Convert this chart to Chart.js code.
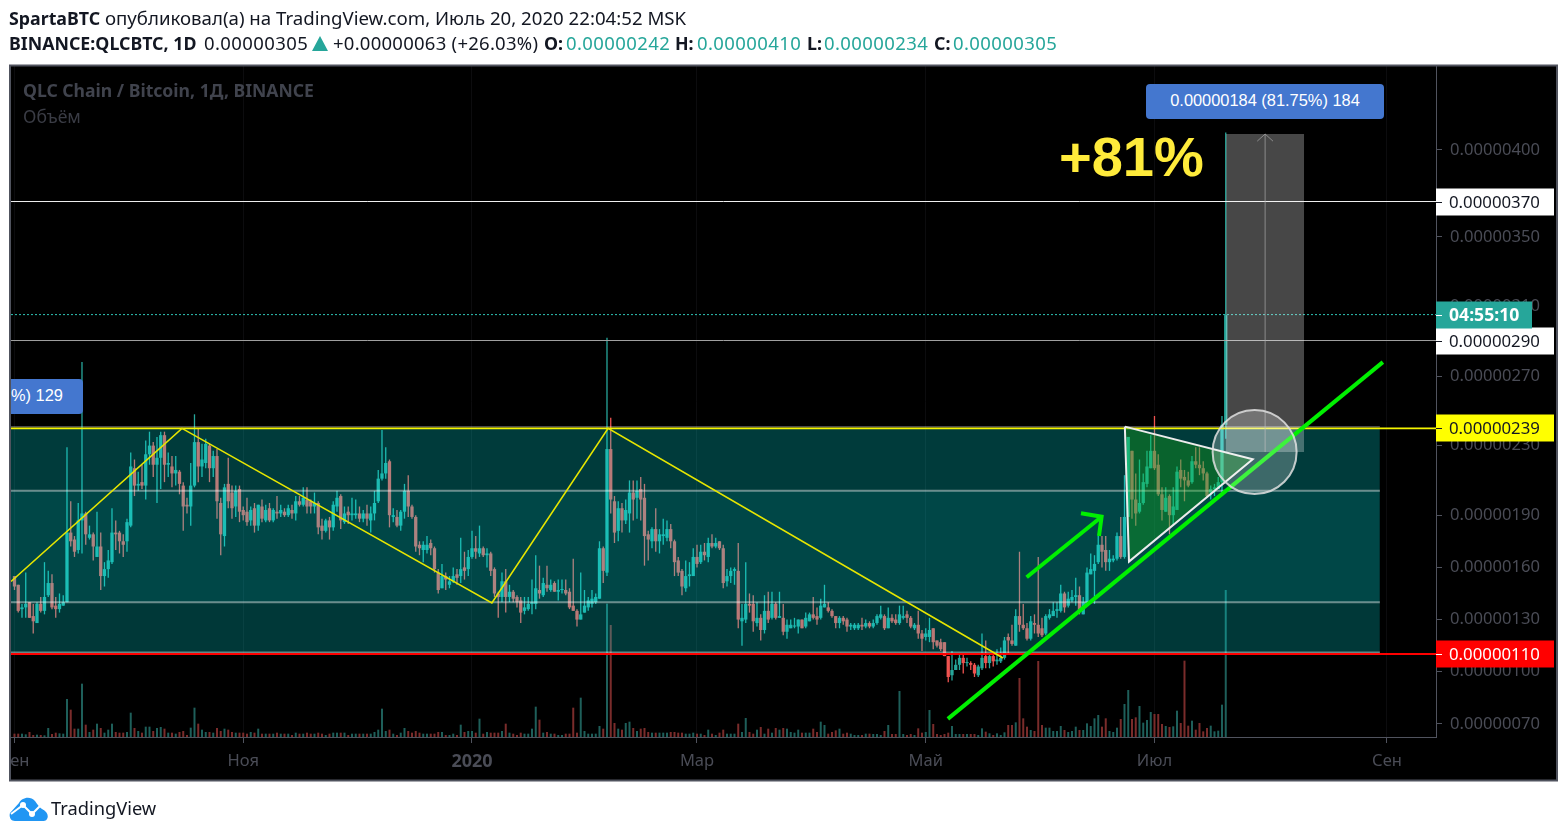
<!DOCTYPE html>
<html lang="ru">
<head>
<meta charset="utf-8">
<title>QLCBTC</title>
<script src="https://cdn.jsdelivr.net/npm/chart.js@4/dist/chart.umd.min.js"></script>
<style>
html, body { margin: 0; padding: 0; background: #fff; }
#wrap { position: relative; width: 1567px; height: 836px; overflow: hidden; font-family: "Noto Sans", sans-serif; }
#chart { position: absolute; left: 0; top: 0; }
.t { position: absolute; white-space: nowrap; font-size: 18.65px; line-height: 24px; color: #131722; }
.n { font-size: 18.5px; letter-spacing: 0.4px; }
.b { font-weight: 700; font-size: 17.8px; letter-spacing: 0; }
.teal { color: #26a69a; }
.blue { position: absolute; background: #4477cf; color: #fff; font: 16.4px/33px "Liberation Sans", sans-serif; white-space: nowrap; overflow: hidden; }
</style>
</head>
<body>
<div id="wrap">
  <canvas id="chart" width="1567" height="836"></canvas>

  <div class="t" style="left:9px;top:6px"><span class="b">SpartaBTC</span> опубликовал(а) на TradingView.com, Июль 20, 2020 22:04:52 MSK</div>
  <div class="t b" style="left:9px;top:31px">BINANCE:QLCBTC, 1D</div>
  <div class="t n" style="left:204px;top:31px">0.00000305</div>
  <svg style="position:absolute;left:312px;top:36px" width="16" height="15"><polygon points="8,0 16,15 0,15" fill="#26a69a"/></svg>
  <div class="t n" style="left:333px;top:31px;letter-spacing:0.25px">+0.00000063 (+26.03%)</div>
  <div class="t b" style="left:544px;top:31px">O:</div>
  <div class="t teal n" style="left:566px;top:31px">0.00000242</div>
  <div class="t b" style="left:675px;top:31px">H:</div>
  <div class="t teal n" style="left:697px;top:31px">0.00000410</div>
  <div class="t b" style="left:807px;top:31px">L:</div>
  <div class="t teal n" style="left:824px;top:31px">0.00000234</div>
  <div class="t b" style="left:934px;top:31px">C:</div>
  <div class="t teal n" style="left:953px;top:31px">0.00000305</div>

  <div class="t b" style="left:23px;top:78px;font-size:17.6px;color:#40434d">QLC Chain / Bitcoin, 1Д, BINANCE</div>
  <div class="t" style="left:23px;top:104px;font-size:17.6px;color:#3a3c45">Объём</div>

  <div class="blue" style="left:1146px;top:84px;width:238px;height:35px;line-height:33px;border-radius:4px;text-align:center">0.00000184 (81.75%) 184</div>
  <div class="blue" style="left:11px;top:379px;width:72px;height:35px;border-radius:0 4px 4px 0">%) 129</div>
  <div class="t" style="left:1059px;top:120px;font:700 56px/74px 'Liberation Sans',sans-serif;color:#ffeb3b">+81%</div>

  <svg style="position:absolute;left:9px;top:797px" width="40" height="24" viewBox="0 0 40 24">
    <path d="M6 24 C1 24 0 19 1 16 L10 6 C12 1 21 -2 26 4 C29 8 30 10 33 12 C38 14 40 19 38 22 C37 24 35 24 33 24 Z" fill="#2196f3"/>
    <path d="M2 17 L14 8 L23 17 L31 9" fill="none" stroke="#fff" stroke-width="2"/>
    <circle cx="14" cy="8" r="3" fill="#fff"/><circle cx="23" cy="17" r="3" fill="#fff"/>
  </svg>
  <div class="t" style="left:51px;top:796px;font-size:18.3px">TradingView</div>
</div>

<script>
// daily candles, Sep 1 2019 = day 0, prices in 1e-8 BTC
const opens = [
  155,150,136,137,140,132,128,139,135,144, 151,138,136,138,140,180,176,170,187,191,
  177,179,166,172,155,159,163,180,180,175, 175,184,217,207,209,207,225,230,219,223,
  236,219,218,214,215,207,196,195,207,232, 218,220,230,217,224,197,178,208,203,195,
  205,193,192,187,194,184,195,187,194,187, 192,191,192,190,193,191,198,196,199,198,
  195,197,184,181,187,183,195,201,186,192, 190,190,191,188,191,187,191,198,211,214,
  221,189,189,184,192,204,195,189,173,170, 170,174,171,157,148,155,150,152,156,155,
  160,159,166,171,168,171,167,168,159,145, 143,152,143,146,143,141,135,136,139,139,
  147,144,150,147,151,146,147,147,146,138, 135,130,134,137,139,140,142,171,157,228,
  198,181,194,187,191,203,200,205,200,179, 175,182,175,178,177,182,175,164,158,148,
  155,155,166,163,169,166,174,172,175,171, 152,155,158,158,129,130,139,139,128,131,
  124,135,131,139,131,131,123,125,126,126, 130,126,129,133,132,131,137,137,135,132,
  128,131,130,126,125,125,127,126,128,126, 128,131,132,125,131,130,128,131,133,131,
  125,127,122,120,120,125,118,117,117,109, 98,101,104,108,105,105,104,98,102,109,
  105,109,106,106,108,120,118,115,132,127, 125,119,128,127,125,122,131,132,135,135,
  145,138,141,143,144,133,139,156,158,163, 173,170,163,164,165,178,166,189,227,199,
  192,197,208,217,227,219,202,192,201,190, 193,216,212,210,209,221,219,217,214,203,
  205,205,209,242
];
const closes = [
  149,135,137,139,131,129,139,135,143,151, 137,136,139,140,180,175,169,187,191,179,
  179,172,172,155,159,164,180,179,175,173, 186,218,207,208,207,225,230,219,223,236,
  219,220,214,216,208,195,195,207,232,218, 222,231,217,224,198,179,206,198,194,204,
  192,190,186,193,184,196,188,193,187,193, 191,193,190,194,191,198,196,200,195,195,
  197,183,181,187,183,196,200,187,191,190, 191,191,188,191,188,191,197,211,214,220,
  190,190,184,192,204,195,189,172,171,173, 173,171,159,147,155,153,152,155,154,159,
  158,166,171,169,171,167,168,158,145,143, 152,143,146,142,140,134,137,139,140,148,
  145,151,148,150,146,147,147,145,137,135, 130,133,138,141,142,143,171,158,228,199,
  180,194,187,193,203,199,204,199,178,176, 182,175,179,179,182,175,163,157,149,155,
  156,166,162,169,167,174,172,174,171,151, 155,158,159,130,131,139,138,129,131,124,
  135,130,139,131,132,123,127,127,126,130, 125,131,133,131,130,138,139,135,132,128,
  131,129,126,127,127,127,126,128,126,128, 132,133,125,131,129,128,133,132,131,126,
  127,122,119,122,124,117,115,113,109,97, 101,104,108,105,105,104,99,103,108,105,
  109,106,107,108,118,118,116,132,127,125, 119,129,127,122,121,132,133,135,136,145,
  137,142,143,144,135,140,157,159,162,173, 169,163,165,165,178,166,189,235,199,191,
  197,209,218,227,217,202,193,200,190,195, 215,211,210,207,221,219,217,214,201,205,
  206,209,242,305
];
const highs = [
  155,150,139,157,140,139,140,143,163,158, 156,143,145,144,229,198,178,197,278,192,
  184,180,192,180,163,170,194,187,181,179, 188,226,222,215,219,233,238,232,235,238,
  238,226,224,224,216,209,200,220,248,240, 231,234,231,227,228,200,208,223,207,207,
  207,195,200,195,197,196,199,196,197,194, 201,196,194,196,196,201,201,206,206,199,
  203,198,188,188,189,198,204,202,195,195, 200,199,195,193,196,195,204,216,239,229,
  222,194,193,193,208,213,196,190,175,175, 178,176,172,159,162,157,155,160,159,177,
  169,170,181,178,184,172,171,169,160,146, 157,159,150,147,144,143,143,143,153,167,
  161,154,161,153,152,153,153,153,148,165, 136,157,147,143,147,145,175,172,292,246,
  201,198,197,199,210,210,210,212,208,181, 183,194,182,188,187,185,176,166,159,164,
  163,171,173,173,174,177,179,177,175,173, 159,160,160,174,139,163,145,144,140,133,
  144,146,146,140,146,139,130,130,131,130, 130,134,134,143,137,142,150,140,136,132,
  132,132,131,128,128,128,131,130,129,130, 133,138,133,137,133,133,138,138,135,132,
  128,135,124,125,131,125,118,119,117,109, 112,107,110,110,108,106,105,104,122,118,
  110,110,113,114,120,122,127,136,169,139, 128,132,133,166,131,133,136,140,140,150,
  146,146,147,154,149,143,160,168,167,178, 178,178,170,167,180,189,213,235,227,214,
  222,214,227,236,247,225,206,206,202,206, 218,222,216,215,224,229,229,221,215,207,
  208,212,247,410
];
const lows = [
  147,134,131,131,131,122,128,134,133,143, 136,131,134,138,140,172,166,168,168,173,
  176,164,166,147,149,154,162,170,168,166, 169,183,201,204,205,199,219,212,197,205,
  209,212,206,207,202,181,191,184,206,209, 212,217,209,212,188,167,172,194,188,189,
  186,187,184,184,180,181,186,186,186,186, 188,189,189,189,188,187,195,195,191,191,
  191,179,176,180,176,181,192,182,185,185, 187,188,186,186,184,180,187,197,210,211,
  183,186,183,181,188,189,188,169,167,163, 168,167,157,145,148,147,148,151,150,151,
  153,155,165,165,166,166,160,155,143,131, 140,134,140,140,137,128,133,135,133,136,
  142,143,146,146,146,141,145,144,136,135, 126,130,134,135,137,139,142,151,155,191,
  174,175,180,185,180,187,188,187,161,164, 171,169,168,173,175,171,155,155,144,146,
  149,155,160,162,164,163,171,171,170,148, 149,151,150,125,115,128,134,123,126,118,
  122,128,130,130,131,121,119,125,125,122, 125,125,129,130,127,130,137,134,131,125,
  125,127,123,124,124,124,124,125,125,125, 127,130,124,125,128,127,127,130,128,125,
  124,119,112,118,117,113,114,112,109,94, 95,101,101,99,103,101,97,97,101,102,
  102,103,104,105,107,110,115,115,123,124, 118,118,122,120,120,121,130,132,131,134,
  134,137,140,138,133,133,139,156,139,162, 160,158,158,163,164,165,165,189,188,184,
  191,196,206,217,216,201,187,192,179,184, 193,206,198,206,208,217,213,210,200,199,
  201,205,201,234
];
const volumes = [
  10,10,10,8,15,6,7,6,5,27, 9,13,11,10,114,82,25,25,160,37,
  15,22,40,27,13,22,40,15,13,13, 15,73,27,18,13,31,31,18,27,30,
  25,13,13,10,15,18,6,28,88,40, 22,15,15,13,27,18,25,22,15,13,
  13,13,10,15,13,25,10,10,10,10, 13,10,10,10,6,13,10,10,13,10,
  10,13,10,6,10,13,13,13,13,6, 10,10,10,10,10,10,15,22,85,18,
  22,10,6,13,27,18,13,18,13,10, 10,10,10,15,15,6,6,10,6,37,
  15,18,18,13,55,10,15,13,13,13, 18,40,13,10,6,13,10,10,25,91,
  52,13,15,10,10,6,6,10,10,88, 13,118,18,10,10,10,33,25,400,336,
  42,25,22,42,46,27,18,25,27,15, 13,13,13,13,13,15,15,13,13,10,
  10,13,10,10,6,22,10,6,13,22, 10,10,10,40,15,57,15,10,22,30,
  10,25,13,27,22,27,25,15,13,22, 13,13,13,25,15,46,36,10,15,20,
  25,10,13,10,6,6,6,10,10,9, 9,6,18,36,9,9,138,9,6,9,
  6,26,13,15,81,39,9,6,9,13, 33,9,9,9,9,9,9,6,26,16,
  11,6,11,6,14,36,36,44,177,56, 31,21,18,228,36,28,28,18,18,33,
  21,15,18,31,21,21,41,33,56,66, 31,56,18,15,28,54,99,141,54,59,
  93,43,51,75,69,69,39,33,30,32, 79,42,229,34,49,22,42,17,27,34,
  17,19,97,441
];

// axes
const priceTicks = [70, 100, 130, 160, 190, 230, 270, 310, 350, 400];
const timeTicks = [0, 61, 122, 182, 243, 304, 366];
const timeLabels = ['Сен', 'Ноя', '2020', 'Мар', 'Май', 'Июл', 'Сен'];
const xMin = -0.93, xMax = 379.07;
const priceMin = 62.5, priceMax = 448.2;
const volumeMax = 2013;

// levels
const lineWhite = 370.3, lineGrey = 290.4, lastPrice = 305.3;
const resistance = 239.9, support = 110.2;
const bandUpper = 204, bandLower = 140, boxEnd = 364.1;

// drawings
const zigzag = [[-0.93,151.9],[44.67,239.9],[127.3,139.5],[158.3,239.9],[263.6,107.9]];
const trendLine = [[248.9,72.9],[364.9,278]];
const arrowShaft = [[269.9,154.3],[289.9,189.1]];
const arrowHead = [[284.4,191.1],[289.9,189.1],[289.2,178]];
const triangle = [[296.1,240.9],[330.2,222.1],[297.2,163.3],[296.1,240.9]];
const circleCenter = [330.7,226.3];
const rangeBox = [323,343.9,226.3,409.1];
const rangeStem = [[333.5,226.3],[333.5,409.1]];
const rangeTip = [[331.4,405],[333.5,409.1],[335.6,405]];

const days = closes.map((c, i) => i);
const up = days.map(i => closes[i] >= opens[i]);
const candleColors = up.map(u => u ? '#26a69a' : '#ef5350');
const volumeColors = up.map(u => u ? '#1e5f5a' : '#7a2c2b');

function pts(list) {
    return list.map(p => ({ x: p[0], y: p[1] }));
}

function line(list, color, width, extra) {
    return Object.assign({
        type: 'line',
        data: pts(list),
        borderColor: color,
        borderWidth: width,
        pointRadius: 0,
        fill: false,
        tension: 0,
        yAxisID: 'y',
        borderCapStyle: 'butt',
        borderJoinStyle: 'miter'
    }, extra || {});
}

function band(x0, x1, top, bottom, color, order) {
    return line([[x0, top], [x1, top]], 'transparent', 0, {
        fill: { value: bottom },
        backgroundColor: color,
        order: order
    });
}

function priceText(v) {
    return (Math.floor(v) / 1e8).toFixed(8);
}

const badges = [
    { value: lineWhite, bg: '#ffffff', fg: '#131722', w: 118 },
    { value: lineGrey, bg: '#ffffff', fg: '#131722', w: 118 },
    { value: resistance, bg: '#ffff00', fg: '#131722', w: 118 },
    { value: support, bg: '#ff0000', fg: '#ffffff', w: 118 }
];

const framePlugin = {
    id: 'framePlugin',
    afterLayout(chart) {
        // keep the plot flush with the frame, the first label may overhang
        const area = chart.chartArea;
        const x = chart.scales.x;
        area.left = 11;
        area.width = area.right - area.left;
        x.left = area.left;
        x.right = area.right;
        x.width = area.width;
        x.configure();
    },
    beforeDraw(chart) {
        const ctx = chart.ctx;
        ctx.save();
        ctx.fillStyle = '#000';
        ctx.fillRect(10, 66, 1547, 714);
        ctx.restore();
    },
    afterDraw(chart) {
        const ctx = chart.ctx;
        const y = chart.scales.y;
        const left = chart.chartArea.right;
        ctx.save();
        // the first month label is cut by the frame
        ctx.fillStyle = '#fff';
        ctx.fillRect(0, 60, 9, 730);
        ctx.strokeStyle = '#50535e';
        ctx.lineWidth = 2;
        ctx.strokeRect(10, 65.5, 1547, 715);

        ctx.textBaseline = 'middle';
        badges.forEach(b => {
            const py = Math.round(y.getPixelForValue(b.value));
            ctx.fillStyle = b.bg;
            ctx.fillRect(left, py - 13.5, b.w, 27);
            ctx.fillStyle = b.fg;
            ctx.fillRect(left, py, 6, 1);
            ctx.font = '16.8px "Noto Sans"';
            ctx.fillText(priceText(b.value), left + 13, py + 1);
        });
        // countdown on the last price
        const py = Math.round(y.getPixelForValue(lastPrice));
        ctx.fillStyle = '#26a69a';
        ctx.fillRect(left, py - 13.5, 96, 27);
        ctx.fillStyle = '#fff';
        ctx.fillRect(left, py, 6, 1);
        ctx.font = '700 17.6px "Noto Sans"';
        ctx.fillText('04:55:10', left + 13, py + 1);
        ctx.restore();
    }
};

new Chart(document.getElementById('chart'), {
    type: 'bar',
    data: {
        datasets: [
            {
                // wicks
                data: days.map(i => ({ x: i, y: [lows[i], highs[i]] })),
                backgroundColor: candleColors,
                barThickness: 1.3,
                inflateAmount: 0,
                grouped: false,
                yAxisID: 'y',
                order: 30
            },
            {
                // bodies
                data: days.map(i => ({ x: i, y: [Math.min(opens[i], closes[i]), Math.max(opens[i], closes[i])] })),
                backgroundColor: candleColors,
                barThickness: 3.3,
                inflateAmount: 0,
                minBarLength: 1,
                grouped: false,
                yAxisID: 'y',
                order: 29
            },
            {
                data: days.map(i => ({ x: i, y: volumes[i] })),
                backgroundColor: volumeColors,
                barThickness: 2,
                inflateAmount: 0,
                grouped: false,
                yAxisID: 'vol',
                order: 28
            },

            // box over the candles
            band(xMin, boxEnd, resistance, bandUpper, 'rgba(0,255,255,0.23)', 20),
            band(xMin, boxEnd, bandUpper, bandLower, 'rgba(0,255,255,0.28)', 20),
            band(xMin, boxEnd, bandLower, support, 'rgba(0,255,255,0.22)', 20),
            line([[xMin, bandUpper], [boxEnd, bandUpper]], 'rgba(255,255,255,0.42)', 2, { order: 19 }),
            line([[xMin, bandLower], [boxEnd, bandLower]], 'rgba(255,255,255,0.42)', 2, { order: 19 }),
            line([[xMin, support + 1], [boxEnd, support + 1]], 'rgba(255,255,255,0.4)', 1.5, { order: 19 }),
            line([[xMin, resistance + 1], [boxEnd, resistance + 1]], 'rgba(255,255,255,0.3)', 1.5, { order: 19 }),

            // horizontal levels
            line([[xMin, lineWhite], [xMax, lineWhite]], '#f0f0f0', 1, { order: 15 }),
            line([[xMin, lineGrey], [xMax, lineGrey]], '#a0a0a0', 1, { order: 15 }),
            line([[xMin, lastPrice], [xMax, lastPrice]], '#2ec4b6', 1, { borderDash: [2, 2], order: 15 }),
            line([[xMin, support], [xMax, support]], '#ff0000', 2, { order: 15 }),
            line([[xMin, resistance], [xMax, resistance]], '#f5f500', 1.6, { order: 15 }),

            line(zigzag, '#e6e600', 1.6, { order: 14 }),

            // measure box
            band(rangeBox[0], rangeBox[1], rangeBox[3], rangeBox[2], 'rgba(255,255,255,0.28)', 13),
            line(rangeStem, 'rgba(170,170,170,0.7)', 1, { order: 12 }),
            line(rangeTip, 'rgba(170,170,170,0.7)', 1, { order: 12 }),

            line(trendLine, '#00f000', 4, { order: 11 }),
            line(arrowShaft, '#00f000', 4, { order: 11 }),
            line(arrowHead, '#00f000', 4, { order: 11 }),

            line(triangle, '#ececec', 2, { fill: 'shape', backgroundColor: 'rgba(25,175,21,0.35)', order: 10 }),

            line([circleCenter], 'rgba(225,225,225,0.85)', 0, {
                showLine: false,
                pointRadius: 42,
                pointBorderWidth: 2,
                pointBackgroundColor: 'rgba(255,255,255,0.24)',
                pointBorderColor: 'rgba(225,225,225,0.85)',
                order: 9
            })
        ]
    },
    options: {
        responsive: false,
        animation: false,
        events: [],
        layout: { padding: { left: 11, right: 11, top: 66, bottom: 56 } },
        plugins: { legend: { display: false }, tooltip: { enabled: false }, title: { display: false } },
        scales: {
            x: {
                type: 'linear',
                offset: false,
                min: xMin,
                max: xMax,
                afterBuildTicks: s => { s.ticks = timeTicks.map(v => ({ value: v })); },
                afterFit: s => { s.height = 43; s.paddingLeft = 0; s.paddingRight = 0; },
                grid: { offset: false, color: '#0c0c0e', tickColor: '#50535e', tickLength: 6, lineWidth: 1 },
                border: { color: '#50535e' },
                ticks: {
                    autoSkip: false,
                    maxRotation: 0,
                    padding: 8,
                    color: '#4a4c56',
                    font: c => (c.tick && c.tick.value === 122)
                        ? { family: '"Noto Sans"', size: 18, weight: 'bold' }
                        : { family: '"Noto Sans"', size: 16.5 },
                    callback: v => timeLabels[timeTicks.indexOf(v)]
                }
            },
            y: {
                type: 'linear',
                position: 'right',
                min: priceMin,
                max: priceMax,
                afterBuildTicks: s => { s.ticks = priceTicks.map(v => ({ value: v })); },
                afterFit: s => { s.width = 120; s.paddingTop = 0; s.paddingBottom = 0; },
                grid: { drawOnChartArea: false, color: '#50535e', tickLength: 6 },
                border: { color: '#50535e' },
                ticks: {
                    autoSkip: false,
                    padding: 8,
                    color: '#4a4c56',
                    font: { family: '"Noto Sans"', size: 16.6 },
                    callback: v => priceText(v)
                }
            },
            vol: {
                type: 'linear',
                position: 'right',
                display: false,
                min: 0,
                max: volumeMax,
                afterFit: s => { s.width = 0; }
            }
        }
    },
    plugins: [framePlugin]
});
</script>
</body>
</html>
